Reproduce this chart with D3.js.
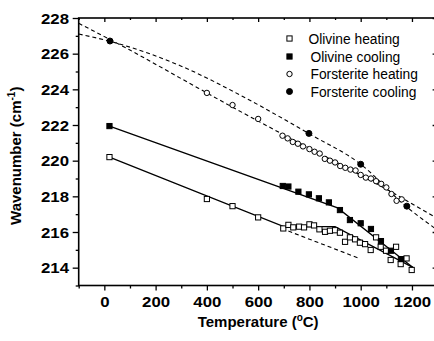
<!DOCTYPE html>
<html>
<head>
<meta charset="utf-8">
<script src="https://cdn.jsdelivr.net/npm/d3@7"></script>
<style>
  body { margin: 0; background: #fff; }
  svg { display: block; font-family: Arial, "Liberation Sans", sans-serif; }
</style>
</head>
<body>
<div id="chart"></div>
<script>
// temperature (°C), wavenumber (cm-1)
const olivineHeating = [
  [20, 220.2], [400, 217.85], [500, 217.45], [600, 216.82],
  [698, 216.2], [718, 216.4], [737, 216.26], [760, 216.3], [779, 216.26],
  [800, 216.43], [818, 216.37], [839, 216.15], [861, 216.01], [880, 216.07],
  [900, 216.1], [919, 215.96], [939, 215.45], [958, 215.7], [978, 215.59],
  [997, 215.4], [1017, 215.32], [1039, 214.99], [1060, 215.7], [1078, 215.17],
  [1099, 214.95], [1117, 214.43], [1138, 215.17], [1156, 214.2], [1179, 214.52],
  [1199, 213.87]
];
const olivineCooling = [
  [20, 221.94], [696, 218.58], [718, 218.55], [757, 218.26], [798, 218.11],
  [837, 217.89], [876, 217.66], [919, 217.23], [958, 216.67], [1000, 216.49],
  [1040, 216.17], [1079, 215.49], [1118, 214.95], [1157, 214.48]
];
const forsteriteHeating = [
  [400, 223.8], [500, 223.12], [600, 222.34],
  [695, 221.4], [715, 221.25], [735, 221.05], [755, 220.95], [775, 220.8],
  [800, 220.65], [820, 220.5], [840, 220.4], [860, 220.1], [880, 220.0],
  [900, 219.9], [920, 219.7], [940, 219.6], [960, 219.5], [980, 219.45],
  [1000, 219.2], [1020, 219.05], [1040, 219.0], [1060, 218.85], [1080, 218.7],
  [1100, 218.5], [1120, 218.13], [1140, 217.75], [1160, 217.83]
];
const forsteriteCooling = [[22, 226.71], [798, 221.53], [1000, 219.8], [1180, 217.45]];

// fit lines
const olivineHeatingFit = [[20, 220.2], [700, 216.3], [900, 216.3], [1205, 214.0]];
const olivineCoolingFit = [[20, 221.94], [910, 217.35], [1205, 214.0]];
const olivineDashed = [[718, 216.05], [995, 214.52]];
const forsteriteHeatingFit = [
  [-100, 227.7], [100, 226.2], [300, 224.6], [500, 223.0], [700, 221.45],
  [900, 219.95], [1100, 218.4], [1300, 216.75]
];
const forsteriteCoolingFit = [
  [-100, 227.1], [20, 226.7], [300, 225.3], [540, 223.6], [800, 221.5],
  [1000, 219.8], [1180, 217.4], [1300, 216.1]
];

const xTicks = [0, 200, 400, 600, 800, 1000, 1200];
const yTicks = [214, 216, 218, 220, 222, 224, 226, 228];

const legendItems = [
  { label: "Olivine heating", shape: "square", fill: false },
  { label: "Olivine cooling", shape: "square", fill: true },
  { label: "Forsterite heating", shape: "circle", fill: false },
  { label: "Forsterite cooling", shape: "circle", fill: true }
];

const width = 434, height = 341;
const plotLeft = 78.7, plotRight = 437.6, plotTop = 18, plotBottom = 285.5;

const svg = d3.select("#chart").append("svg")
  .attr("width", width).attr("height", height);

const x = d3.scaleLinear().domain([-100, 1300]).range([plotLeft, plotRight]);
const y = d3.scaleLinear().domain([213, 228]).range([plotBottom, plotTop]);

svg.append("defs").append("clipPath").attr("id", "clip")
  .append("rect").attr("x", plotLeft).attr("y", plotTop)
  .attr("width", plotRight - plotLeft).attr("height", plotBottom - plotTop);

const plot = svg.append("g").attr("clip-path", "url(#clip)");

const line = d3.line().x(d => x(d[0])).y(d => y(d[1]));
const curve = d3.line().x(d => x(d[0])).y(d => y(d[1])).curve(d3.curveMonotoneX);

// dashed fits
[forsteriteHeatingFit, forsteriteCoolingFit].forEach(pts => {
  plot.append("path").attr("d", curve(pts))
    .attr("fill", "none").attr("stroke", "#000")
    .attr("stroke-width", 1.1).attr("stroke-dasharray", "4,3");
});
plot.append("path").attr("d", line(olivineDashed))
  .attr("fill", "none").attr("stroke", "#000")
  .attr("stroke-width", 1.1).attr("stroke-dasharray", "4,3");

// solid fits
[olivineHeatingFit, olivineCoolingFit].forEach(pts => {
  plot.append("path").attr("d", line(pts))
    .attr("fill", "none").attr("stroke", "#000").attr("stroke-width", 1.3);
});

function drawMarker(g, shape, fill, cx, cy) {
  if (shape === "square") {
    g.append("rect")
      .attr("x", cx - 2.6).attr("y", cy - 2.6)
      .attr("width", 5.2).attr("height", 5.2)
      .attr("fill", fill ? "#000" : "#fff")
      .attr("stroke", "#000").attr("stroke-width", 1);
  } else {
    g.append("circle")
      .attr("cx", cx).attr("cy", cy).attr("r", fill ? 3 : 2.7)
      .attr("fill", fill ? "#000" : "#fff")
      .attr("stroke", "#000").attr("stroke-width", 1);
  }
}

const marks = plot.append("g");
olivineHeating.forEach(d => drawMarker(marks, "square", false, x(d[0]), y(d[1])));
olivineCooling.forEach(d => drawMarker(marks, "square", true, x(d[0]), y(d[1])));
forsteriteHeating.forEach(d => drawMarker(marks, "circle", false, x(d[0]), y(d[1])));
forsteriteCooling.forEach(d => drawMarker(marks, "circle", true, x(d[0]), y(d[1])));

// axes
const minorX = d3.range(-100, 1301, 100).filter(v => v % 200 !== 0);
const minorY = d3.range(213, 228.1, 1).filter(v => v % 2 !== 0);

function styleAxis(g) {
  g.select(".domain").remove();
  g.selectAll("line").attr("stroke", "#000").attr("stroke-width", 1.3);
}

// the labels in the picture are a wide bold sans, so stretch them a bit
svg.append("g").attr("transform", `translate(0,${plotBottom})`)
  .call(d3.axisBottom(x).tickValues(xTicks).tickSize(5).tickFormat(d3.format("d")))
  .call(styleAxis)
  .call(g => g.selectAll("text")
    .attr("font-size", 14).attr("font-weight", "bold").attr("fill", "#000")
    .attr("y", 21.2).attr("dy", null)
    .attr("transform", "scale(1.2,1)"));
svg.append("g").attr("transform", `translate(0,${plotBottom})`)
  .call(d3.axisBottom(x).tickValues(minorX).tickSize(3).tickFormat(""))
  .call(styleAxis);

svg.append("g").attr("transform", `translate(${plotLeft},0)`)
  .call(d3.axisLeft(y).tickValues(yTicks).tickSize(6))
  .call(styleAxis)
  .call(g => g.selectAll("text")
    .attr("font-size", 14).attr("font-weight", "bold").attr("fill", "#000")
    .attr("x", -8.1).attr("dy", "0.36em")
    .attr("transform", "scale(1.2,1)"));
svg.append("g").attr("transform", `translate(${plotLeft},0)`)
  .call(d3.axisLeft(y).tickValues(minorY).tickSize(3).tickFormat(""))
  .call(styleAxis);

svg.append("g").attr("transform", `translate(0,${plotTop})`)
  .call(d3.axisTop(x).tickValues(xTicks).tickSize(-4).tickFormat(""))
  .call(styleAxis);
svg.append("g").attr("transform", `translate(0,${plotTop})`)
  .call(d3.axisTop(x).tickValues(minorX).tickSize(-2).tickFormat(""))
  .call(styleAxis);

svg.append("g").attr("transform", `translate(${plotRight},0)`)
  .call(d3.axisRight(y).tickValues(yTicks).tickSize(-5).tickFormat(""))
  .call(styleAxis);

// frame
svg.append("rect")
  .attr("x", plotLeft).attr("y", plotTop)
  .attr("width", plotRight - plotLeft).attr("height", plotBottom - plotTop)
  .attr("fill", "none").attr("stroke", "#000").attr("stroke-width", 1.6);

// axis titles
const xt = svg.append("text")
  .attr("x", (plotLeft + plotRight) / 2).attr("y", 327)
  .attr("text-anchor", "middle")
  .attr("font-size", 15).attr("font-weight", "bold");
xt.append("tspan").text("Temperature (");
xt.append("tspan").attr("font-size", 10).attr("dy", -6).text("o");
xt.append("tspan").attr("dy", 6).text("C)");

const yt = svg.append("text")
  .attr("transform", `translate(21,${(plotTop + plotBottom) / 2 + 4}) rotate(-90)`)
  .attr("text-anchor", "middle")
  .attr("font-size", 15).attr("font-weight", "bold");
yt.append("tspan").text("Wavenumber (cm");
yt.append("tspan").attr("font-size", 10).attr("dy", -6).text("-1");
yt.append("tspan").attr("dy", 6).text(")");

// legend
const legend = svg.append("g");
const rowY = [43.5, 61.5, 79, 96.5];
legendItems.forEach((item, i) => {
  drawMarker(legend, item.shape, item.fill, 289.5, rowY[i] - 5);
  legend.append("text")
    .attr("x", i === 0 ? 308.5 : 310.5).attr("y", rowY[i])
    .attr("font-size", 13.8)
    .text(item.label);
});
</script>
</body>
</html>
